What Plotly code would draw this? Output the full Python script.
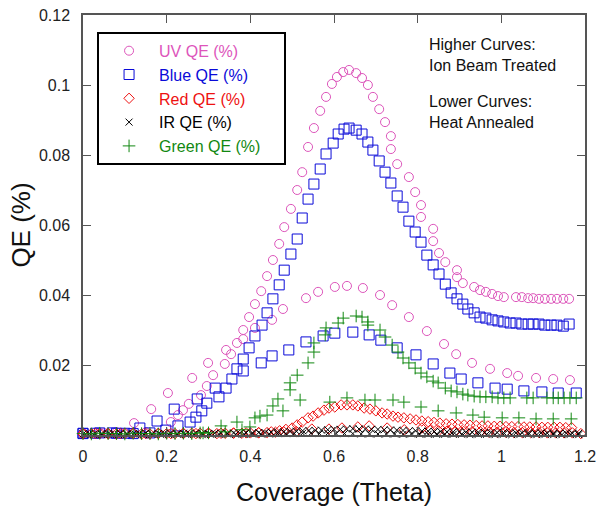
import plotly.graph_objects as go

# ---- data (Coverage vs QE) ----
# UV, ion beam treated (higher curve)
uv_hi_x = [0.00, 0.04, 0.08, 0.122, 0.163, 0.203, 0.261, 0.299, 0.342, 0.368, 0.383, 0.397, 0.411, 0.426,
           0.440, 0.454, 0.469, 0.481, 0.497, 0.512, 0.524, 0.538, 0.552, 0.567, 0.581, 0.595, 0.607, 0.622,
           0.636, 0.653, 0.667, 0.681, 0.693, 0.708, 0.722, 0.736, 0.736, 0.751, 0.779, 0.794, 0.808, 0.808,
           0.837, 0.837, 0.851, 0.866, 0.894, 0.894, 0.908, 0.935, 0.949, 0.963, 0.978, 0.992, 1.006, 1.035,
           1.049, 1.064, 1.076, 1.090, 1.104, 1.119, 1.133, 1.148, 1.162]
uv_hi_y = [0.0005, 0.0006, 0.0008, 0.0034, 0.0074, 0.0120, 0.0163, 0.0206, 0.0243, 0.0263, 0.0300, 0.0337,
           0.0374, 0.0411, 0.0454, 0.0500, 0.0546, 0.0594, 0.0646, 0.0700, 0.0751, 0.0823, 0.0877, 0.0926,
           0.0966, 0.1003, 0.1023, 0.1037, 0.1043, 0.1034, 0.1020, 0.1000, 0.0966, 0.0931, 0.0894, 0.0854,
           0.0817, 0.0774, 0.0737, 0.0694, 0.0657, 0.0623, 0.0589, 0.0554, 0.0520, 0.0494, 0.0471, 0.0451,
           0.0434, 0.0423, 0.0414, 0.0409, 0.0403, 0.0397, 0.0394, 0.0394, 0.0394, 0.0391, 0.0391, 0.0389,
           0.0389, 0.0389, 0.0389, 0.0389, 0.0389]
# UV, heat annealed (lower curve)
uv_lo_x = [0.00, 0.05, 0.10, 0.15, 0.210, 0.227, 0.239, 0.253, 0.282, 0.296, 0.311, 0.339, 0.354, 0.383,
           0.411, 0.452, 0.478, 0.533, 0.562, 0.602, 0.631, 0.669, 0.710, 0.739, 0.779, 0.822, 0.863, 0.892,
           0.930, 0.973, 1.014, 1.040, 1.083, 1.124, 1.164]
uv_lo_y = [0.0004, 0.0005, 0.0006, 0.0008, 0.0037, 0.0057, 0.0071, 0.0089, 0.0114, 0.0140, 0.0171, 0.0203,
           0.0231, 0.0274, 0.0306, 0.0329, 0.0360, 0.0391, 0.0409, 0.0423, 0.0426, 0.0420, 0.0400, 0.0371,
           0.0337, 0.0297, 0.0260, 0.0231, 0.0206, 0.0189, 0.0177, 0.0169, 0.0163, 0.0160, 0.0157]

# Blue
blue_hi_x = [0.00, 0.03, 0.07, 0.10, 0.136, 0.177, 0.218, 0.273, 0.316, 0.356, 0.368, 0.383, 0.397, 0.411,
             0.428, 0.440, 0.454, 0.469, 0.481, 0.497, 0.512, 0.524, 0.538, 0.552, 0.567, 0.581, 0.598, 0.610,
             0.624, 0.636, 0.653, 0.667, 0.681, 0.693, 0.708, 0.722, 0.736, 0.751, 0.765, 0.779, 0.794, 0.808,
             0.822, 0.837, 0.851, 0.866, 0.880, 0.894, 0.908, 0.920, 0.935, 0.949, 0.963, 0.978, 0.992, 1.006,
             1.021, 1.035, 1.049, 1.064, 1.076, 1.090, 1.104, 1.119, 1.133, 1.148, 1.162]
blue_hi_y = [0.0004, 0.0005, 0.0006, 0.0005, 0.0020, 0.0040, 0.0074, 0.0103, 0.0134, 0.0160, 0.0189, 0.0217,
             0.0249, 0.0283, 0.0314, 0.0349, 0.0389, 0.0429, 0.0471, 0.0517, 0.0560, 0.0620, 0.0674, 0.0717,
             0.0760, 0.0803, 0.0834, 0.0860, 0.0874, 0.0877, 0.0871, 0.0860, 0.0837, 0.0814, 0.0783, 0.0751,
             0.0720, 0.0683, 0.0651, 0.0611, 0.0580, 0.0551, 0.0514, 0.0486, 0.0460, 0.0431, 0.0406, 0.0389,
             0.0374, 0.0360, 0.0349, 0.0337, 0.0334, 0.0329, 0.0326, 0.0323, 0.0320, 0.0320, 0.0317, 0.0317,
             0.0317, 0.0317, 0.0314, 0.0314, 0.0314, 0.0311, 0.0317]
blue_lo_x = [0.00, 0.04, 0.08, 0.12, 0.16, 0.198, 0.227, 0.256, 0.270, 0.284, 0.296, 0.325, 0.342, 0.383,
             0.426, 0.452, 0.492, 0.533, 0.574, 0.602, 0.645, 0.684, 0.712, 0.751, 0.796, 0.837, 0.877, 0.904,
             0.944, 0.985, 1.014, 1.054, 1.097, 1.136, 1.179]
blue_lo_y = [0.0005, 0.0006, 0.0005, 0.0004, 0.0006, 0.0014, 0.0026, 0.0037, 0.0051, 0.0069, 0.0091, 0.0109,
             0.0134, 0.0183, 0.0206, 0.0226, 0.0243, 0.0266, 0.0283, 0.0291, 0.0294, 0.0286, 0.0271, 0.0249,
             0.0229, 0.0203, 0.0177, 0.0160, 0.0149, 0.0134, 0.0131, 0.0126, 0.0123, 0.0120, 0.0120]

# Red
red_hi_x = [0.00, 0.03, 0.06, 0.09, 0.12, 0.15, 0.18, 0.21, 0.24, 0.27, 0.30, 0.33, 0.36, 0.39, 0.42, 0.45,
            0.47, 0.485, 0.500, 0.512, 0.524, 0.538, 0.550, 0.562, 0.576, 0.588, 0.602, 0.617, 0.631, 0.645,
            0.657, 0.672, 0.686, 0.700, 0.715, 0.727, 0.741, 0.753, 0.767, 0.782, 0.796, 0.810, 0.825, 0.839,
            0.853, 0.868, 0.882, 0.896, 0.911, 0.925, 0.940, 0.954, 0.968, 0.983, 0.997, 1.011, 1.025, 1.040,
            1.054, 1.068, 1.083, 1.097, 1.111, 1.126, 1.140, 1.154, 1.168]
red_hi_y = [0.0004, 0.0004, 0.0005, 0.0004, 0.0005, 0.0004, 0.0005, 0.0004, 0.0005, 0.0004, 0.0005, 0.0005,
            0.0006, 0.0006, 0.0007, 0.0009, 0.0012, 0.0016, 0.0020, 0.0029, 0.0037, 0.0049, 0.0054, 0.0063,
            0.0071, 0.0077, 0.0080, 0.0086, 0.0086, 0.0086, 0.0083, 0.0077, 0.0074, 0.0069, 0.0063, 0.0060,
            0.0054, 0.0051, 0.0049, 0.0046, 0.0043, 0.0040, 0.0038, 0.0036, 0.0034, 0.0032, 0.0031, 0.0030,
            0.0029, 0.0028, 0.0027, 0.0026, 0.0026, 0.0025, 0.0025, 0.0024, 0.0024, 0.0024, 0.0023, 0.0023,
            0.0023, 0.0022, 0.0022, 0.0022, 0.0022, 0.0021, 0.0021]
red_lo_x = [0.00, 0.02, 0.04, 0.06, 0.08, 0.10, 0.12, 0.14, 0.16, 0.18, 0.20, 0.22, 0.24, 0.26, 0.28, 0.30,
            0.32, 0.34, 0.36, 0.38, 0.40, 0.42, 0.44, 0.46, 0.48, 0.51, 0.547, 0.588, 0.619, 0.657, 0.684,
            0.727, 0.768, 0.810, 0.83, 0.85, 0.87, 0.89, 0.91, 0.93, 0.95, 0.97, 0.99, 1.01, 1.03, 1.05,
            1.07, 1.09, 1.11, 1.13, 1.15, 1.17, 1.19]
red_lo_y = [0.0003, 0.0004, 0.0004, 0.0003, 0.0003, 0.0004, 0.0004, 0.0003, 0.0003, 0.0004, 0.0004, 0.0004,
            0.0004, 0.0005, 0.0005, 0.0005, 0.0004, 0.0005, 0.0005, 0.0005, 0.0006, 0.0006, 0.0007, 0.0008,
            0.0009, 0.0010, 0.0017, 0.0017, 0.0020, 0.0023, 0.0026, 0.0020, 0.0015, 0.0020, 0.0013, 0.0012,
            0.0011, 0.0010, 0.0010, 0.0009, 0.0009, 0.0008, 0.0008, 0.0008, 0.0007, 0.0007, 0.0007, 0.0007,
            0.0006, 0.0006, 0.0006, 0.0006, 0.0004]

# IR
ir_hi_x = [0.000, 0.015, 0.030, 0.045, 0.060, 0.075, 0.090, 0.105, 0.120, 0.135,
           0.150, 0.165, 0.180, 0.195, 0.210, 0.225, 0.240, 0.255, 0.270, 0.285,
           0.300, 0.315, 0.330, 0.345, 0.360, 0.375, 0.390, 0.405, 0.420, 0.435,
           0.450, 0.465, 0.480, 0.495, 0.510, 0.525, 0.540, 0.555, 0.570, 0.585,
           0.600, 0.615, 0.630, 0.645, 0.660, 0.675, 0.690, 0.705, 0.720, 0.735,
           0.750, 0.765, 0.780, 0.795, 0.810, 0.825, 0.840, 0.855, 0.870, 0.885,
           0.900, 0.915, 0.930, 0.945, 0.960, 0.975, 0.990, 1.005, 1.020, 1.035,
           1.050, 1.065, 1.080, 1.095, 1.110, 1.125, 1.140, 1.155, 1.170, 1.185]
ir_hi_y = [0.0003, 0.0004, 0.0003, 0.0004, 0.0004, 0.0003, 0.0004, 0.0004, 0.0003, 0.0004,
           0.0005, 0.0004, 0.0004, 0.0005, 0.0004, 0.0004, 0.0005, 0.0004, 0.0005, 0.0005,
           0.0004, 0.0005, 0.0005, 0.0005, 0.0006, 0.0005, 0.0006, 0.0006, 0.0007, 0.0007,
           0.0008, 0.0009, 0.0009, 0.0010, 0.0011, 0.0012, 0.0013, 0.0013, 0.0014, 0.0015,
           0.0016, 0.0016, 0.0017, 0.0018, 0.0017, 0.0017, 0.0016, 0.0016, 0.0015, 0.0014,
           0.0014, 0.0013, 0.0012, 0.0012, 0.0011, 0.0011, 0.0010, 0.0010, 0.0009, 0.0009,
           0.0009, 0.0008, 0.0008, 0.0008, 0.0007, 0.0007, 0.0007, 0.0007, 0.0006, 0.0006,
           0.0006, 0.0006, 0.0006, 0.0006, 0.0005, 0.0005, 0.0005, 0.0005, 0.0005, 0.0005]
ir_lo_x = [0.005, 0.025, 0.045, 0.065, 0.085, 0.105, 0.125, 0.145, 0.165, 0.185,
           0.205, 0.225, 0.245, 0.265, 0.285, 0.305, 0.325, 0.345, 0.365, 0.385,
           0.405, 0.425, 0.445, 0.465, 0.485, 0.505, 0.525, 0.545, 0.565, 0.585,
           0.605, 0.625, 0.645, 0.665, 0.685, 0.705, 0.725, 0.745, 0.765, 0.785,
           0.805, 0.825, 0.845, 0.865, 0.885, 0.905, 0.925, 0.945, 0.965, 0.985,
           1.005, 1.025, 1.045, 1.065, 1.085, 1.105, 1.125, 1.145, 1.165, 1.185]
ir_lo_y = [0.0001, 0.0002, 0.0001, 0.0002, 0.0001, 0.0002, 0.0002, 0.0001, 0.0002, 0.0002,
           0.0001, 0.0002, 0.0002, 0.0002, 0.0001, 0.0002, 0.0002, 0.0003, 0.0002, 0.0002,
           0.0003, 0.0003, 0.0003, 0.0004, 0.0004, 0.0004, 0.0005, 0.0005, 0.0004, 0.0005,
           0.0004, 0.0004, 0.0004, 0.0003, 0.0003, 0.0003, 0.0003, 0.0003, 0.0002, 0.0003,
           0.0002, 0.0002, 0.0002, 0.0002, 0.0002, 0.0002, 0.0001, 0.0002, 0.0002, 0.0001,
           0.0002, 0.0001, 0.0002, 0.0002, 0.0001, 0.0002, 0.0001, 0.0001, 0.0002, 0.0001]

# Green
green_hi_x = [0.00, 0.04, 0.08, 0.12, 0.16, 0.20, 0.24, 0.28, 0.30, 0.34, 0.38, 0.411, 0.423, 0.440, 0.454,
              0.466, 0.495, 0.495, 0.512, 0.538, 0.552, 0.552, 0.579, 0.581, 0.610, 0.622, 0.653, 0.667, 0.681,
              0.681, 0.710, 0.722, 0.739, 0.753, 0.765, 0.779, 0.794, 0.808, 0.822, 0.837, 0.849, 0.866, 0.880,
              0.894, 0.908, 0.920, 0.935, 0.949, 0.963, 0.978, 0.992, 1.006, 1.021, 1.061, 1.076, 1.109, 1.124,
              1.136, 1.150, 1.164, 1.179]
green_hi_y = [0.0004, 0.0005, 0.0004, 0.0005, 0.0004, 0.0005, 0.0005, 0.0006, 0.0006, 0.0009, 0.0015, 0.0049,
              0.0054, 0.0057, 0.0083, 0.0103, 0.0129, 0.0149, 0.0171, 0.0206, 0.0237, 0.0263, 0.0286, 0.0306,
              0.0320, 0.0334, 0.0340, 0.0337, 0.0323, 0.0314, 0.0300, 0.0280, 0.0257, 0.0237, 0.0220, 0.0206,
              0.0191, 0.0177, 0.0166, 0.0154, 0.0149, 0.0134, 0.0126, 0.0123, 0.0117, 0.0114, 0.0111, 0.0109,
              0.0109, 0.0109, 0.0106, 0.0106, 0.0106, 0.0106, 0.0106, 0.0106, 0.0106, 0.0106, 0.0106, 0.0106,
              0.0106]
green_lo_x = [0.02, 0.06, 0.10, 0.14, 0.18, 0.22, 0.26, 0.287, 0.330, 0.368, 0.399, 0.478, 0.519, 0.590, 0.631,
              0.674, 0.698, 0.741, 0.767, 0.808, 0.849, 0.892, 0.932, 0.959, 1.002, 1.042, 1.083, 1.124, 1.167]
green_lo_y = [0.0003, 0.0004, 0.0003, 0.0004, 0.0003, 0.0004, 0.0004, 0.0006, 0.0026, 0.0037, 0.0023, 0.0069,
              0.0100, 0.0094, 0.0106, 0.0100, 0.0100, 0.0100, 0.0094, 0.0080, 0.0069, 0.0063, 0.0057, 0.0051,
              0.0049, 0.0049, 0.0046, 0.0046, 0.0046]

x_ticks = [0, 0.2, 0.4, 0.6, 0.8, 1.0, 1.2]
x_tick_text = ["0", "0.2", "0.4", "0.6", "0.8", "1", "1.2"]
y_ticks = [0.02, 0.04, 0.06, 0.08, 0.1, 0.12]
y_tick_text = ["0.02", "0.04", "0.06", "0.08", "0.1", "0.12"]

# name, colour, symbol, size, (higher, lower) data
series = [
    ("UV QE (%)", "#dd55bb", "circle-open", 9, (uv_hi_x, uv_hi_y), (uv_lo_x, uv_lo_y)),
    ("Blue QE (%)", "#0a0ad8", "square-open", 10, (blue_hi_x, blue_hi_y), (blue_lo_x, blue_lo_y)),
    ("Red QE (%)", "#ee1111", "diamond-open", 8, (red_hi_x, red_hi_y), (red_lo_x, red_lo_y)),
    ("IR QE (%)", "#000000", "x-thin-open", 7, (ir_hi_x, ir_hi_y), (ir_lo_x, ir_lo_y)),
    ("Green QE (%)", "#118811", "cross-thin-open", 9, (green_hi_x, green_hi_y), (green_lo_x, green_lo_y)),
]

fig = go.Figure()

for name, color, symbol, size, hi, lo in series:
    label = name + ("&nbsp;" * 4 if name.startswith("Green") else "")
    for k, (xs, ys) in enumerate([hi, lo]):
        fig.add_trace(go.Scatter(
            x=xs, y=ys,
            mode="markers",
            name=f"<span style='color:{color}'>{label}</span>",
            legendgroup=name,
            showlegend=(k == 0),
            cliponaxis=False,
            marker=dict(symbol=symbol, size=size, color=color,
                        line=dict(color=color, width=1)),
        ))

fig.add_annotation(x=0.686, y=0.955, xref="paper", yref="paper", xanchor="left", yanchor="top",
                   text="Higher Curves:<br>Ion Beam Treated", showarrow=False, align="left",
                   font=dict(size=16, color="#111111"))
fig.add_annotation(x=0.686, y=0.82, xref="paper", yref="paper", xanchor="left", yanchor="top",
                   text="Lower Curves:<br>Heat Annealed", showarrow=False, align="left",
                   font=dict(size=16, color="#111111"))

axis_common = dict(showline=True, linecolor="#555555", linewidth=1.5, mirror="ticks",
                   ticks="inside", ticklen=8, tickcolor="#555555", showgrid=False, zeroline=False,
                   automargin=False, ticklabeloverflow="allow",
                   tickfont=dict(size=16, color="#222222"))

fig.update_layout(
    width=596, height=509,
    margin=dict(l=83, r=11, t=15, b=74),
    plot_bgcolor="white", paper_bgcolor="white",
    font=dict(family="Liberation Sans, Arial, sans-serif"),
    xaxis=dict(range=[0, 1.2], tickvals=x_ticks, ticktext=x_tick_text, ticklabelstandoff=6,
               title=dict(text="Coverage (Theta)", font=dict(size=25, color="#111111"), standoff=20),
               **axis_common),
    yaxis=dict(range=[0, 0.12], tickvals=y_ticks, ticktext=y_tick_text, ticklabelstandoff=8,
               title=dict(text="QE (%)", font=dict(size=26, color="#111111"), standoff=1),
               **axis_common),
    legend=dict(x=0.028, y=0.96, xanchor="left", yanchor="top",
                bordercolor="black", borderwidth=2, bgcolor="white",
                font=dict(size=16), tracegroupgap=0, itemwidth=50),
)

# the page body has a default 8px margin; drop it so the figure fills the window
fig.write_html("out.html", config={"displayModeBar": False},
               post_script="document.body.style.margin='0';")
